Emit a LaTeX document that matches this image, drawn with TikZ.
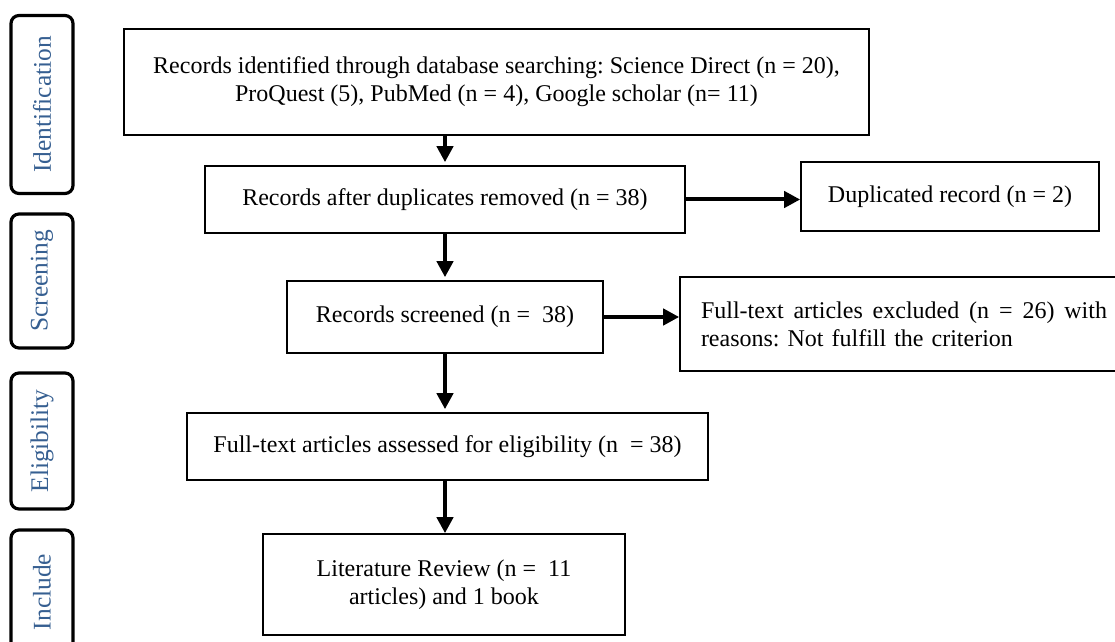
\documentclass[tikz,border=0pt]{standalone}
\usepackage{fontspec}
\setmainfont{Liberation Serif}
\usepackage{xcolor}
\usepackage{tikz}
\usetikzlibrary{arrows.meta}

\definecolor{stageblue}{RGB}{54,95,145}
\frenchspacing

\begin{document}
\begin{tikzpicture}[x=0.5pt,y=-0.5pt,
  box/.style={draw,line width=0.8pt,align=center,inner sep=0pt,font=\fontsize{12}{14}\selectfont},
  stage/.style={draw,line width=1.6pt,rounded corners=4pt,rotate=90,minimum height=31pt,
    inner sep=0pt,text=stageblue,font=\fontsize{12.7}{14}\selectfont},
  arr/.style={line width=2pt,-{Triangle[length=8pt,width=8pt]}}]

\useasboundingbox (0,0) rectangle (1115,642);
\clip (0,0) rectangle (1115,642);

% Stage labels
\node[stage,minimum width=89pt] (ident) at (42,104.5) {Identification};
\node[stage,minimum width=67pt] (screen) at (42,281) {Screening};
\node[stage,minimum width=68pt] (elg) at (42,441) {Eligibility};
\node[stage,minimum width=62pt] (incl) at (42,592) {Include};

% Flow boxes
\node[box,minimum width=372.5pt,minimum height=53pt] (rec) at (496.5,82)
  {Records identified through database searching: Science Direct (n = 20),\\
   ProQuest (5), PubMed (n = 4), Google scholar (n= 11)};
\node[box,minimum width=240pt,minimum height=33.5pt] (dup) at (445,199.5)
  {Records after duplicates removed (n = 38)};
\node[box,minimum width=149pt,minimum height=34.5pt] (dupl) at (950,196.5)
  {Duplicated record (n = 2)};
\node[box,minimum width=158pt,minimum height=36pt] (scr) at (445,317)
  {Records screened (n = \ 38)};
\node[box,minimum width=224pt,minimum height=47pt,text width=203pt,align=left] (exc) at (904,324)
  {Full-text\hfill articles\hfill excluded\hfill (n\hfill =\hfill 26)\hfill with\\
   reasons: Not fulfill the criterion};
\node[box,minimum width=260.5pt,minimum height=33.5pt] (elig) at (447.5,446.5)
  {Full-text articles assessed for eligibility (n \ = 38)};
\node[box,minimum width=181pt,minimum height=50.5pt] (lit) at (444,584.5)
  {Literature Review (n = \ 11\\ articles) and 1 book};

% Arrows
\draw[arr,shorten >=1.5pt] (rec.south -| dup.north) -- (dup.north);
\draw[arr] (dup.east) -- (dup.east -| dupl.west);
\draw[arr,shorten >=1.5pt] (dup.south) -- (scr.north);
\draw[arr] (scr.east) -- (scr.east -| exc.west);
\draw[arr,shorten >=1.5pt] (scr.south) -- (scr.south |- elig.north);
\draw[arr] (scr.south |- elig.south) -- (scr.south |- lit.north);

\end{tikzpicture}
\end{document}
